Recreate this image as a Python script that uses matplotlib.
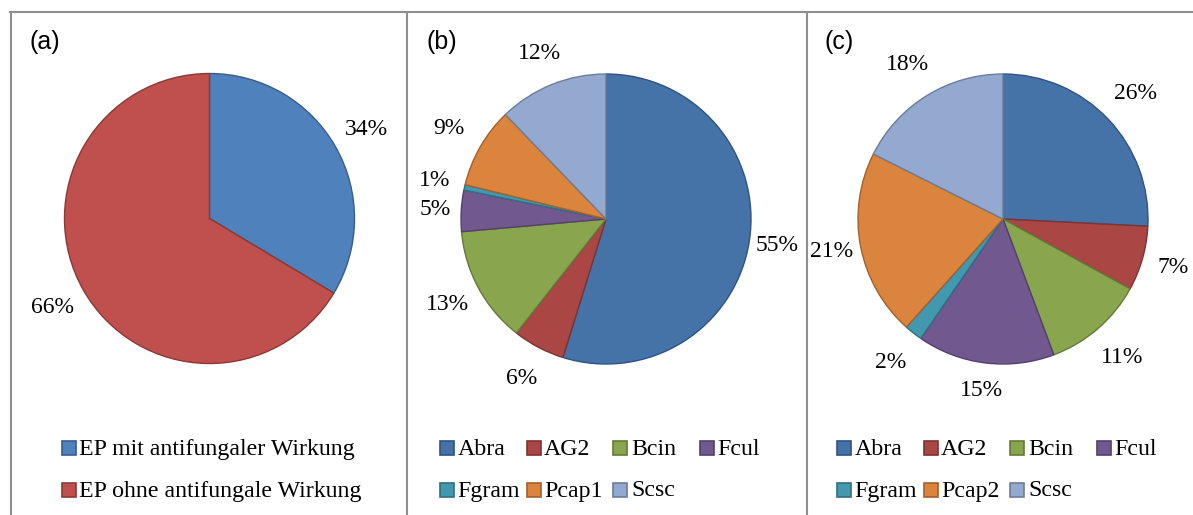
"""Three pie charts: share of extracts with antifungal effect and per-fungus breakdown."""

import matplotlib

matplotlib.use("Agg")
import matplotlib.pyplot as plt
import numpy as np
from matplotlib.lines import Line2D
from matplotlib.patches import Rectangle

W, H = 1193, 515
SERIF = "Liberation Serif"
SANS = "Liberation Sans"

# (a) extracts with / without antifungal effect
effect_labels = ["EP mit antifungaler Wirkung", "EP ohne antifungale Wirkung"]
effect_shares = [33.6, 66.4]

# (b) breakdown by fungus
fungi_b = ["Abra", "AG2", "Bcin", "Fcul", "Fgram", "Pcap1", "Scsc"]
shares_b = [54.8, 5.8, 13.0, 4.6, 0.6, 9.0, 12.2]

# (c) breakdown by fungus
fungi_c = ["Abra", "AG2", "Bcin", "Fcul", "Fgram", "Pcap2", "Scsc"]
shares_c = [25.8, 7.2, 11.3, 15.3, 2.0, 20.8, 17.6]

colors_a = ["#4f81bd", "#c0504d"]
edges_a = ["#385d8a", "#8c3836"]
colors_fungi = ["#4572a7", "#aa4643", "#89a54e", "#71588f", "#4198af", "#db843d", "#93a9cf"]
edges_fungi = ["#2f5382", "#7d3331", "#657a3a", "#53416a", "#307081", "#a2612d", "#6c7d99"]

RADIUS = 145


def px(x, y):
    return x / W, 1 - y / H


def draw_pie(fig, cx, cy, x0, x1, values, colors, edges):
    y0, y1 = 20, 420
    ax = fig.add_axes([x0 / W, 1 - y1 / H, (x1 - x0) / W, (y1 - y0) / H])
    wedges, _ = ax.pie(values, colors=colors, startangle=90, counterclock=False,
                       wedgeprops=dict(linewidth=1.0))
    for wedge, ec in zip(wedges, edges):
        wedge.set_edgecolor(ec)
    total = sum(values)
    for wedge, value in zip(wedges, values):
        mid = np.deg2rad((wedge.theta1 + wedge.theta2) / 2)
        # labels sit a little further out on the diagonals (text box corners)
        dist = 1.17 + 0.09 * abs(np.sin(2 * mid))
        ax.text(dist * np.cos(mid), dist * np.sin(mid), f"{round(100 * value / total)}%",
                ha="center", va="center", fontsize=17, family=SERIF, clip_on=False)
    ax.set_xlim((x0 - cx) / RADIUS, (x1 - cx) / RADIUS)
    ax.set_ylim((cy - y1) / RADIUS, (cy - y0) / RADIUS)
    ax.set_aspect("auto")
    ax.axis("off")


def draw_legend(fig, x_start, labels, colors, edges, ncol, col_w=86.7, baselines=(455, 496.5)):
    for i, (label, color, edge) in enumerate(zip(labels, colors, edges)):
        row, col = divmod(i, ncol)
        x = x_start + col * col_w
        base = baselines[row]
        fig.patches.append(Rectangle(px(x, base), 14 / W, 14 / H, transform=fig.transFigure,
                                     facecolor=color, edgecolor=edge, linewidth=1.2))
        fig.text(*px(x + 17.5, base), label, ha="left", va="baseline",
                 fontsize=17.2, family=SERIF)


fig = plt.figure(figsize=(W / 100, H / 100), dpi=100)

# frame lines
line_kw = dict(color="#8f8f8f", linewidth=1.5, transform=fig.transFigure)
fig.add_artist(Line2D([10 / W, 1], [1 - 12 / H, 1 - 12 / H], **line_kw))
for x in (11, 407, 807):
    fig.add_artist(Line2D([x / W, x / W], [0, 1 - 12 / H], **line_kw))

draw_pie(fig, 209.5, 218.5, 13, 405, effect_shares, colors_a, edges_a)
draw_pie(fig, 606, 219, 409, 805, shares_b, colors_fungi, edges_fungi)
draw_pie(fig, 1003, 219, 809, 1192, shares_c, colors_fungi, edges_fungi)

draw_legend(fig, 61.5, effect_labels, colors_a, edges_a, ncol=1)
draw_legend(fig, 440, fungi_b, colors_fungi, edges_fungi, ncol=4)
draw_legend(fig, 837, fungi_c, colors_fungi, edges_fungi, ncol=4)

for x, tag in ((30, "(a)"), (427, "(b)"), (825, "(c)")):
    fig.text(*px(x, 41.5), tag, ha="left", va="center", fontsize=18, family=SANS)

fig.savefig("out.png", dpi=100)
